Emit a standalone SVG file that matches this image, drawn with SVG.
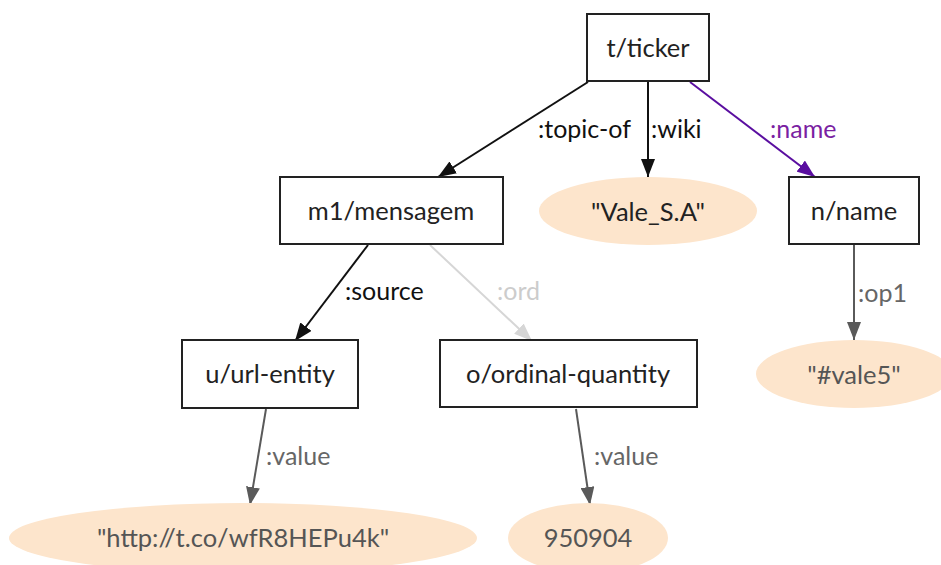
<svg xmlns="http://www.w3.org/2000/svg" width="941" height="565" viewBox="0 0 941 565">
  <style>
    .box { fill: #ffffff; stroke: #222222; stroke-width: 2; }
    .lit { fill: #fde5cc; stroke: none; }
    .lbl { font-family: Lato, "Liberation Sans", sans-serif; font-size: 25.5px; fill: #222222; dominant-baseline: central; text-anchor: middle; }
    .lbl.gray { fill: #555555; }
    .elbl { font-family: Lato, "Liberation Sans", sans-serif; font-size: 25px; dominant-baseline: central; }
    .e { fill: none; stroke-width: 2; }
    .black { stroke: #111111; }
    .purple { stroke: #5a0ea0; }
    .light { stroke: #d6d6d6; }
    .grey { stroke: #5a5a5a; }
  </style>
  <defs>
    <marker id="ah-black" viewBox="0 0 18 14" refX="18" refY="7" markerWidth="18" markerHeight="14" markerUnits="userSpaceOnUse" orient="auto">
      <path d="M0,0 L18,7 L0,14 Z" fill="#111111"/>
    </marker>
    <marker id="ah-purple" viewBox="0 0 18 14" refX="18" refY="7" markerWidth="18" markerHeight="14" markerUnits="userSpaceOnUse" orient="auto">
      <path d="M0,0 L18,7 L0,14 Z" fill="#5a0ea0"/>
    </marker>
    <marker id="ah-light" viewBox="0 0 18 14" refX="18" refY="7" markerWidth="18" markerHeight="14" markerUnits="userSpaceOnUse" orient="auto">
      <path d="M0,0 L18,7 L0,14 Z" fill="#d6d6d6"/>
    </marker>
    <marker id="ah-grey" viewBox="0 0 18 14" refX="18" refY="7" markerWidth="18" markerHeight="14" markerUnits="userSpaceOnUse" orient="auto">
      <path d="M0,0 L18,7 L0,14 Z" fill="#5a5a5a"/>
    </marker>
  </defs>

  <rect width="941" height="565" fill="#ffffff"/>

  <g id="edges">
    <line class="e black" x1="588" y1="82" x2="438" y2="177" marker-end="url(#ah-black)"/>
    <text class="elbl" x="538" y="128" fill="#111111">:topic-of</text>
    <line class="e black" x1="648" y1="82" x2="648" y2="177" marker-end="url(#ah-black)"/>
    <text class="elbl" x="651" y="128" fill="#111111">:wiki</text>
    <line class="e purple" x1="690" y1="82" x2="815" y2="177" marker-end="url(#ah-purple)"/>
    <text class="elbl" x="770" y="128" fill="#7b1fa2">:name</text>

    <line class="e black" x1="368" y1="245" x2="295" y2="341" marker-end="url(#ah-black)"/>
    <text class="elbl" x="345" y="290" fill="#111111">:source</text>
    <line class="e light" x1="430" y1="245" x2="532" y2="341" marker-end="url(#ah-light)"/>
    <text class="elbl" x="497" y="290" fill="#cccccc">:ord</text>

    <line class="e grey" x1="854" y1="245" x2="854" y2="340" marker-end="url(#ah-grey)"/>
    <text class="elbl" x="858" y="292" fill="#666666">:op1</text>

    <line class="e grey" x1="266" y1="409" x2="250" y2="505" marker-end="url(#ah-grey)"/>
    <text class="elbl" x="266" y="455" fill="#666666">:value</text>
    <line class="e grey" x1="576" y1="409" x2="590" y2="505" marker-end="url(#ah-grey)"/>
    <text class="elbl" x="594" y="455" fill="#666666">:value</text>
  </g>

  <g id="t-ticker">
    <rect class="box" x="587" y="14" width="122" height="67"/>
    <text class="lbl" x="648" y="47">t/ticker</text>
  </g>
  <g id="m1-mensagem">
    <rect class="box" x="280" y="177" width="223" height="67"/>
    <text class="lbl" x="391" y="210">m1/mensagem</text>
  </g>
  <g id="vale-sa">
    <ellipse class="lit" cx="648" cy="211" rx="109" ry="34"/>
    <text class="lbl" x="648" y="211">"Vale_S.A"</text>
  </g>
  <g id="n-name">
    <rect class="box" x="789" y="177" width="130" height="67"/>
    <text class="lbl" x="854" y="210">n/name</text>
  </g>
  <g id="u-url-entity">
    <rect class="box" x="182" y="340" width="176" height="68"/>
    <text class="lbl" x="270" y="373">u/url-entity</text>
  </g>
  <g id="o-ordinal-quantity">
    <rect class="box" x="440" y="340" width="257" height="67"/>
    <text class="lbl" x="568" y="373">o/ordinal-quantity</text>
  </g>
  <g id="vale5">
    <ellipse class="lit" cx="854" cy="374" rx="98" ry="34"/>
    <text class="lbl gray" x="854" y="374">"#vale5"</text>
  </g>
  <g id="url-value">
    <ellipse class="lit" cx="243" cy="538" rx="234" ry="35"/>
    <text class="lbl gray" x="243" y="537">"http://t.co/wfR8HEPu4k"</text>
  </g>
  <g id="ord-value">
    <ellipse class="lit" cx="588" cy="538" rx="80" ry="35"/>
    <text class="lbl gray" x="588" y="537">950904</text>
  </g>
</svg>
